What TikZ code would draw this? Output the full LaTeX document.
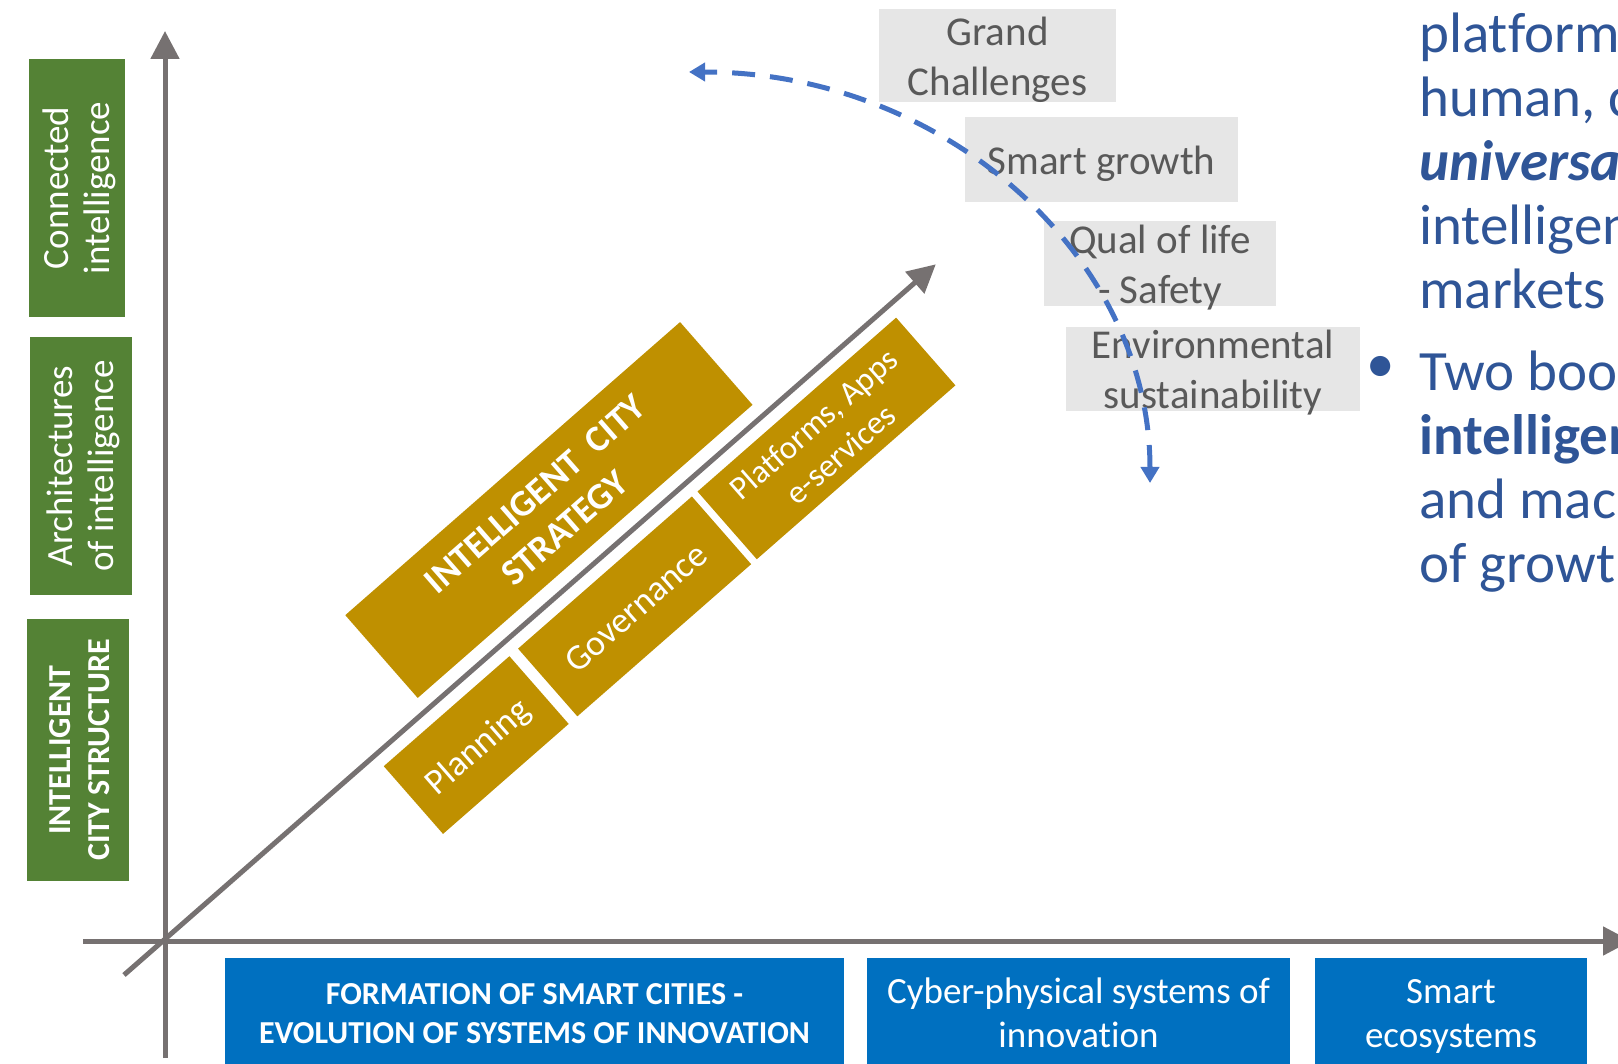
\documentclass[tikz,border=0pt]{standalone}
\usepackage{fontspec}
\setmainfont{Carlito}[Ligatures={NoCommon,NoContextual}]
\usetikzlibrary{arrows.meta}

\definecolor{achsgrau}{HTML}{767171}
\definecolor{gruen}{HTML}{548235}
\definecolor{gold}{HTML}{BF9000}
\definecolor{blaufeld}{HTML}{0070C0}
\definecolor{hellgrau}{HTML}{E6E6E6}
\definecolor{textgrau}{HTML}{595959}
\definecolor{strichblau}{HTML}{4472C4}
\definecolor{textblau}{HTML}{2F5597}

% Zeilenstuetze wie im Folientext
\newcommand{\stuetze}{\vrule height .8\baselineskip depth .2\baselineskip width 0pt}

\begin{document}
\begin{tikzpicture}[x=1pt, y=-1pt,
	achse/.style={line width=5pt, draw=achsgrau, -{Triangle[length=28pt, width=28pt]}},
	gruenbox/.style={fill=gruen, text=white, rotate=90, inner sep=0pt, align=center},
	goldbox/.style={fill=gold, text=white, inner sep=0pt, align=center, transform shape},
	blaubox/.style={fill=blaufeld, text=white, inner sep=0pt, align=center},
	graubox/.style={fill=hellgrau, text=textgrau, inner xsep=0pt, inner ysep=-8pt,
		align=center, font=\fontsize{41}{50}\selectfont},
	rechtstext/.style={anchor=base west, inner sep=0pt, align=left, text=textblau,
		font=\fontsize{57}{64}\selectfont},
	bogen/.style={line width=5pt, draw=strichblau, dash pattern=on 23pt off 15pt,
		{Triangle[length=16pt, width=18pt]}-{Triangle[length=16pt, width=18pt]}}]
	\useasboundingbox (0,0) rectangle (1618,1064);
	\clip (0,0) rectangle (1618,1064);

	% Achsen
	\coordinate (yunten) at (165,1058);
	\coordinate (yoben) at (165,31);
	\coordinate (xlinks) at (83,941);
	\coordinate (xrechts) at (1631,941);
	\draw[achse] (yunten) -- (yoben);
	\draw[achse] (xlinks) -- (xrechts);

	% Stufen links
	\node[gruenbox, font=\fontsize{37}{41}\selectfont, minimum width=258pt,
	minimum height=96pt] (connected) at (77,188)
	{\stuetze Connected\\\stuetze intelligence};
	\node[gruenbox, font=\fontsize{37}{41}\selectfont, minimum width=258pt,
	minimum height=102pt] (architectures) at (81,466)
	{\stuetze Architectures\\\stuetze of intelligence};
	\node[gruenbox, font=\bfseries\fontsize{32}{39}\selectfont, minimum width=262pt,
	minimum height=102pt] (structure) at (78,750)
	{\stuetze INTELLIGENT\\\stuetze CITY STRUCTURE};

	% Diagonale mit Strategie
	\begin{scope}[shift={(124,975)}, rotate=41.2]
		\coordinate (dstart) at (0,0);
		\coordinate (dende) at (1079,0);
		\draw[achse] (dstart) -- (dende);
		\node[goldbox, font=\bfseries\fontsize{37}{45}\selectfont, minimum width=445pt,
		minimum height=110pt] (strategy) at (626,-70)
		{\stuetze INTELLIGENT\ \ CITY\\\stuetze STRATEGY};
		\node[goldbox, font=\fontsize{36}{44}\selectfont, minimum width=167pt,
		minimum height=90pt] (planning) at (416.5,59) {\stuetze Planning};
		\node[goldbox, font=\fontsize{36}{44}\selectfont, minimum width=231pt,
		minimum height=90pt] (governance) at (627,59) {\stuetze Governance};
		\node[goldbox, font=\fontsize{33}{40}\selectfont, minimum width=264pt,
		minimum height=90pt] (platforms) at (882,59)
		{\stuetze Platforms, Apps\\\stuetze e-services};
	\end{scope}

	% Zeitachse unten
	\node[blaubox, font=\bfseries\fontsize{32}{39}\selectfont, minimum width=619pt,
	minimum height=108pt] (formation) at (534.5,1012)
	{\stuetze FORMATION OF SMART CITIES -\\\stuetze EVOLUTION OF SYSTEMS OF INNOVATION};
	\node[blaubox, font=\fontsize{37}{44}\selectfont, minimum width=423pt,
	minimum height=108pt] (cyber) at (1078.5,1012)
	{\stuetze Cyber-physical systems of\\\stuetze innovation};
	\node[blaubox, font=\fontsize{37}{44}\selectfont, minimum width=272pt,
	minimum height=108pt] (ecosystems) at (1451,1012)
	{\stuetze Smart\\\stuetze ecosystems};

	% Herausforderungen
	\node[graubox, minimum width=237pt, minimum height=93pt] (grand) at (997.5,55.5)
	{\stuetze Grand\\\stuetze Challenges};
	\node[graubox, minimum width=273pt, minimum height=85pt] (growth) at (1101.5,159.5)
	{\stuetze Smart growth};
	\node[graubox, minimum width=232pt, minimum height=85pt] (life) at (1160,263.5)
	{\stuetze Qual of life\\\stuetze - Safety};
	\node[graubox, minimum width=294pt, minimum height=84pt] (environment) at (1213,369)
	{\stuetze Environmental\\\stuetze sustainability};

	% Bogen
	\coordinate (bunten) at (1150,483);
	\coordinate (boben) at (689,72);
	\draw[bogen] (bunten) .. controls (1150,256) and (944,72) .. (boben);

	% Text rechts
	\node[rechtstext] (absatz) at (1419,309)
	{platforms\\human, c\\\textbf{\textit{universal}}\\intelligence\\markets};
	\node[anchor=base, inner sep=0pt, text=textblau, font=\fontsize{57}{64}\selectfont]
	(punkt) at (1381,383) {•};
	\node[rechtstext] (zweiter) at (1419,582)
	{Two books\\\textbf{intelligence}\\and machine\\of growth};
\end{tikzpicture}
\end{document}
